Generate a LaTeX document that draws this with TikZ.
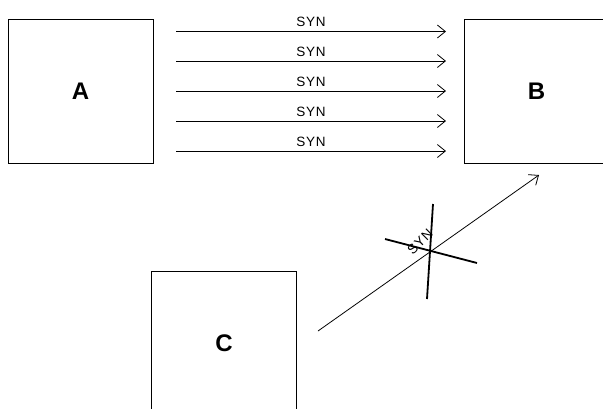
\documentclass[tikz,border=0pt]{standalone}
\usepackage{fontspec}
\setmainfont{Liberation Sans}
\usetikzlibrary{arrows.meta}
\begin{document}
\begin{tikzpicture}[x=1pt,y=-1pt,
  box/.style={draw,line width=0.9pt,minimum width=145pt,minimum height=144pt,inner sep=0pt,font=\fontsize{24}{24}\selectfont\bfseries},
  syn/.style={font=\fontsize{13.5}{13.5}\selectfont\addfontfeature{LetterSpace=6}},
  link/.style={line width=0.8pt,-{Straight Barb[length=8pt,width=13pt,line width=0.8pt]}},
  cross/.style={line width=1.8pt}]
\useasboundingbox (0,0) rectangle (603,408);
\clip (0,0) rectangle (603,408);
\node[box] (A) at (80.5,91) {A};
\node[box] (B) at (536.5,91) {B};
\node[box] (C) at (224,343) {C};
\foreach \i/\y in {1/31.5,2/61,3/91,4/121,5/151}{
  \coordinate (s\i) at (176,\y);
  \coordinate (e\i) at (446,\y);
  \draw[link] (s\i) -- node[syn,above=1pt]{SYN} (e\i);
}
\coordinate (ds) at (318,331);
\coordinate (de) at (539,175);
\draw[link] (ds) -- (de);
\coordinate (x1) at (433,204);
\coordinate (x2) at (427,299);
\coordinate (x3) at (385,239);
\coordinate (x4) at (477,263);
\draw[cross] (x1) -- (x2);
\draw[cross] (x3) -- (x4);
\node[syn,rotate=45] (lab) at (420,242) {SYN};
\end{tikzpicture}
\end{document}
